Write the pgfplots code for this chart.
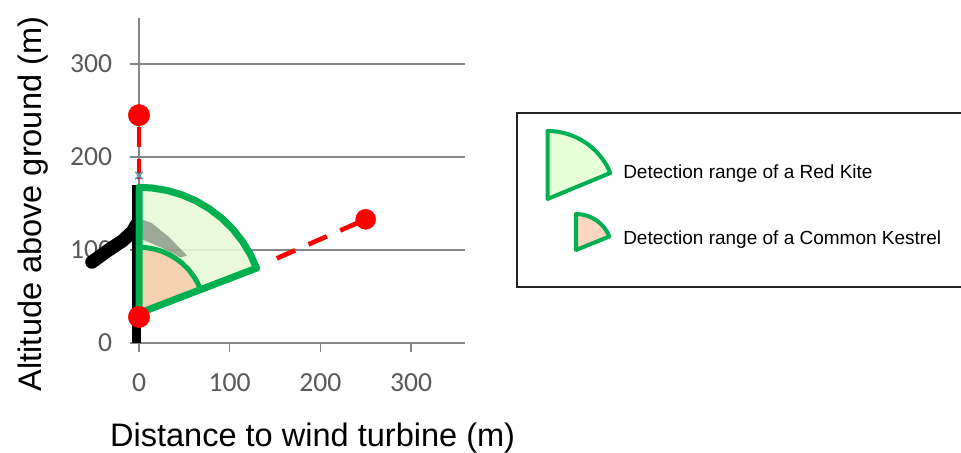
\documentclass[border=0pt]{standalone}
\usepackage{pgfplots}
\pgfplotsset{compat=1.18}
\usepackage{fontspec}
\setmainfont{Liberation Sans}
\newfontfamily\calibri{Carlito}
\definecolor{kgreen}{HTML}{00B050}
\definecolor{kitefill}{HTML}{E6F9D6}
\definecolor{kesfill}{HTML}{F5D2B2}
\definecolor{gridgray}{HTML}{868686}
\definecolor{ticktext}{HTML}{595959}
\definecolor{legkite}{HTML}{E6FFD6}
\definecolor{legkes}{HTML}{FDD5C0}
\definecolor{markblue}{HTML}{4BACC6}
\begin{document}
\begin{tikzpicture}
\path[use as bounding box] (0,0) rectangle (720.75pt,339.75pt);
\begin{axis}[
  at={(104.25pt,82.5pt)}, anchor=south west,
  scale only axis, width=244.8pt, height=244.1pt,
  xmin=0, xmax=360, ymin=0, ymax=350,
  axis x line=bottom, axis y line=left,
  axis line style={-, draw=gridgray, line width=0.8pt},
  xtick={0,100,200,300}, ytick={0,100,200,300},
  tick align=outside, major tick length=6.75pt,
  tick style={draw=gridgray, line width=0.8pt},
  ymajorgrids, major grid style={draw=gridgray, line width=0.8pt},
  clip=false,
  /pgf/number format/assume math mode=true,
  ticklabel style={font=\calibri\fontsize{20.7}{24}\selectfont, text=ticktext},
  xticklabel style={anchor=north, inner sep=0pt, yshift=-15.75pt},
  yticklabel style={anchor=east, inner sep=0pt, xshift=-13.15pt},
  xlabel={Distance to wind turbine (m)},
  ylabel={Altitude above ground (m)},
  xlabel style={at={(axis description cs:0.532,-0.318)}, anchor=base, inner sep=0pt, font=\fontsize{24.4}{28}\selectfont},
  ylabel style={at={(axis description cs:-0.299,0.427)}, anchor=base, inner sep=0pt, font=\fontsize{24.4}{28}\selectfont},
]
% turbine tower
\addplot[black, line width=6.75pt, no markers] coordinates {(-3,0) (-3,170)};
% black blade (left)
\addplot[black, line width=10pt, no markers, line cap=round] coordinates {(-52,87) (-35,99) (-18,110) (-7,120) (-3,127)};
% red dashed flight lines
\addplot[red, line width=3.5pt, dash pattern=on 15pt off 9pt, no markers] coordinates {(0,176) (0,245)};
\addplot[red, line width=3.5pt, dash pattern=on 15pt off 11pt, no markers] coordinates {(152,91) (250,133)};
% red positions
\addplot[only marks, mark=*, color=red, mark size=8pt] coordinates {(0,28)};
% detection range fills
\addplot[draw=none, fill=kitefill, fill opacity=0.9] coordinates {(0,32) (0,167.5) (14.5,166.7) (31.3,164.0) (47.5,159.3) (63.1,152.7) (77.7,144.3) (91.2,134.2) (103.3,122.7) (113.8,109.7) (122.7,95.6) (129.7,80.5)} -- cycle;
\addplot[draw=none, fill=kesfill] coordinates {(0,32) (0,103.0) (7.6,102.6) (16.4,101.1) (24.9,98.7) (33.0,95.2) (40.7,90.8) (47.8,85.6) (54.1,79.5) (59.6,72.7) (64.3,65.3) (67.9,57.4)} -- cycle;
% blade seen through the range
\addplot[draw=none, fill=black, fill opacity=0.32] coordinates {(0,134) (14,129) (33,114) (53,94) (46,92) (26,102) (0,113)} -- cycle;
% outlines
\addplot[kgreen, line width=3.75pt, no markers] coordinates {(0,103.0) (7.6,102.6) (16.4,101.1) (24.9,98.7) (33.0,95.2) (40.7,90.8) (47.8,85.6) (54.1,79.5) (59.6,72.7) (64.3,65.3) (67.9,57.4)};
\addplot[kgreen, line width=5.25pt, no markers, line join=round] coordinates {(0,32) (0,167.5) (14.5,166.7) (31.3,164.0) (47.5,159.3) (63.1,152.7) (77.7,144.3) (91.2,134.2) (103.3,122.7) (113.8,109.7) (122.7,95.6) (129.7,80.5)} -- cycle;
% blue marker
\addplot[only marks, mark=x, color=markblue, mark size=4pt, line width=1.2pt] coordinates {(0,180)};
% red end positions
\addplot[only marks, mark=*, color=red, mark size=8pt] coordinates {(0,245)};
\addplot[only marks, mark=*, color=red, mark size=7.5pt] coordinates {(250,133)};
\end{axis}
\begin{scope}[x=0.75pt, y=0.75pt]
\draw[line width=1.5pt, color=black!85] (517,340) rectangle (966,166);
\filldraw[fill=legkite, draw=kgreen, line width=3pt, line join=round] (547.5,254) -- ++(0,68) arc[start angle=90, end angle=22.5, radius=51pt] -- cycle;
\filldraw[fill=legkes, draw=kgreen, line width=3pt, line join=round] (576,203) -- ++(0,36) arc[start angle=90, end angle=22, radius=27pt] -- cycle;
\node[anchor=base west, inner sep=0pt, font=\fontsize{14.25}{17}\selectfont] at (623,274) {Detection range of a Red Kite};
\node[anchor=base west, inner sep=0pt, font=\fontsize{14.25}{17}\selectfont] at (623,208) {Detection range of a Common Kestrel};
\end{scope}
\end{tikzpicture}
\end{document}
